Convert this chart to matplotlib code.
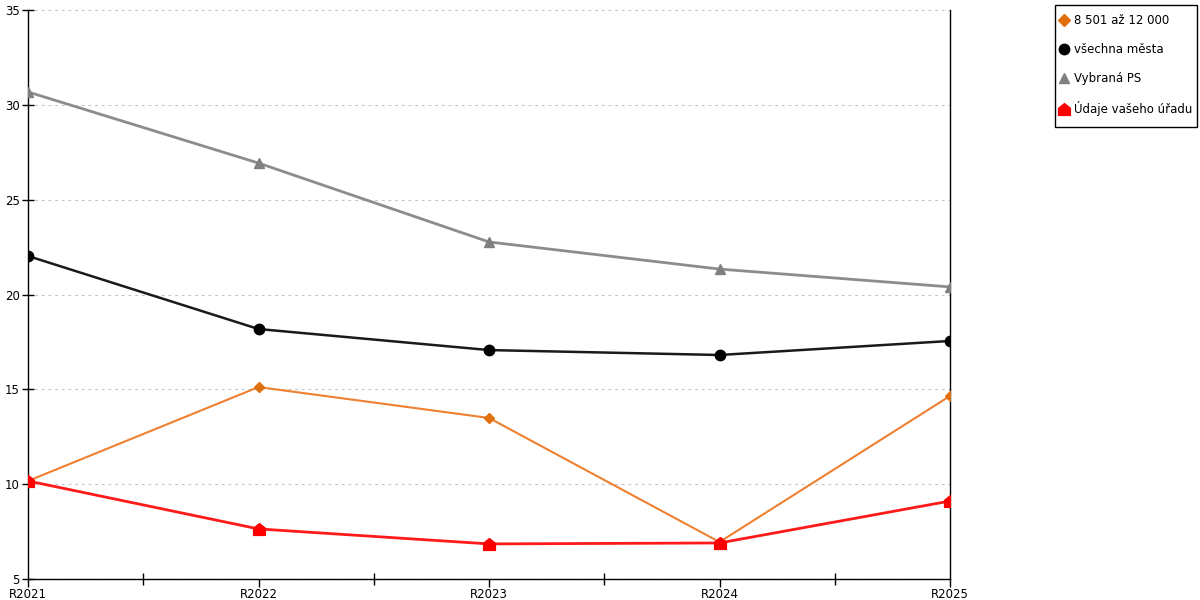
import matplotlib
matplotlib.use("Agg")
import matplotlib.pyplot as plt
from matplotlib.path import Path
from matplotlib.lines import Line2D
from matplotlib.patches import Rectangle

categories = ["R2021", "R2022", "R2023", "R2024", "R2025"]
s_8501 = [10.17, 15.12, 13.49, 6.95, 14.65]
s_all = [22.03, 18.18, 17.07, 16.81, 17.55]
s_ps = [30.68, 26.93, 22.77, 21.34, 20.40]
s_urad = [10.17, 7.64, 6.85, 6.90, 9.11]
labels = ["8 501 až 12 000", "všechna města", "Vybraná PS", "Údaje vašeho úřadu"]
yticks = [5, 10, 15, 20, 25, 30, 35]

plt.rcParams['font.family'] = ['DejaVu Sans']

house = Path([(-1, -1), (1, -1), (1, 0.2), (0, 1), (-1, 0.2), (-1, -1)],
             [Path.MOVETO, Path.LINETO, Path.LINETO, Path.LINETO, Path.LINETO, Path.CLOSEPOLY])

W, H = 1200, 600
fig = plt.figure(figsize=(12, 6), dpi=100)
ax = fig.add_axes([28/W, 21/H, 922/W, 569/H])

x = list(range(len(categories)))
ax.plot(x, s_ps, color="#8c8c8c", lw=2, marker="^", ms=7.5, mfc="#808080", mec="#808080", zorder=3)
ax.plot(x, s_all, color="#1a1a1a", lw=1.8, marker="o", ms=7.5, mfc="black", mec="black", zorder=3)
ax.plot(x, s_8501, color="#ee8030", lw=1.5, marker="D", ms=5.5, mfc="#e0700f", mec="#e0700f", zorder=3)
ax.plot(x, s_urad, color="#ff1a1a", lw=2, marker=house, ms=8.5, mfc="red", mec="red", zorder=3)

ax.set_xlim(0, len(categories) - 1)
ax.set_ylim(5, 35)
ax.set_xticks(x)
ax.set_xticklabels(categories)
ax.set_xticks([i + 0.5 for i in range(len(categories) - 1)], minor=True)
ax.set_yticks(yticks)
ax.tick_params(axis='x', which='major', direction='out', length=6, width=1, labelsize=8.5, pad=0.5, color='black')
ax.tick_params(axis='x', which='minor', direction='inout', length=9, width=1, color='black')
ax.tick_params(axis='y', which='major', direction='inout', length=8, width=1, labelsize=8.5, pad=2, color='black')

for y in yticks:
    ax.plot([0, 1], [y, y], transform=ax.get_yaxis_transform(), color="#c4c4c4",
            lw=0.8, ls=(0, (2.5, 3.5)), zorder=1, clip_on=False)

ax.spines['top'].set_visible(False)
for s in ['left', 'right', 'bottom']:
    ax.spines[s].set_color('black')
    ax.spines[s].set_linewidth(1)

handles = [
    Line2D([], [], ls='none', marker='D', ms=6, mfc="#e0700f", mec="#e0700f"),
    Line2D([], [], ls='none', marker='o', ms=7.5, mfc="black", mec="black"),
    Line2D([], [], ls='none', marker='^', ms=7.5, mfc="#808080", mec="#808080"),
    Line2D([], [], ls='none', marker=house, ms=8.5, mfc="red", mec="red"),
]
leg = fig.legend(handles, labels, loc='upper left', bbox_to_anchor=(1050/W, 1 - 5/H),
                 frameon=False, fontsize=8.5,
                 handlelength=0.8, handletextpad=0.5, labelspacing=1.35,
                 borderpad=0.75, borderaxespad=0)
fig.patches.append(Rectangle((1055/W, 1 - 127/H), 142/W, 122/H, transform=fig.transFigure,
                             fill=False, edgecolor='black', lw=1))

fig.savefig("out.png", dpi=100)
